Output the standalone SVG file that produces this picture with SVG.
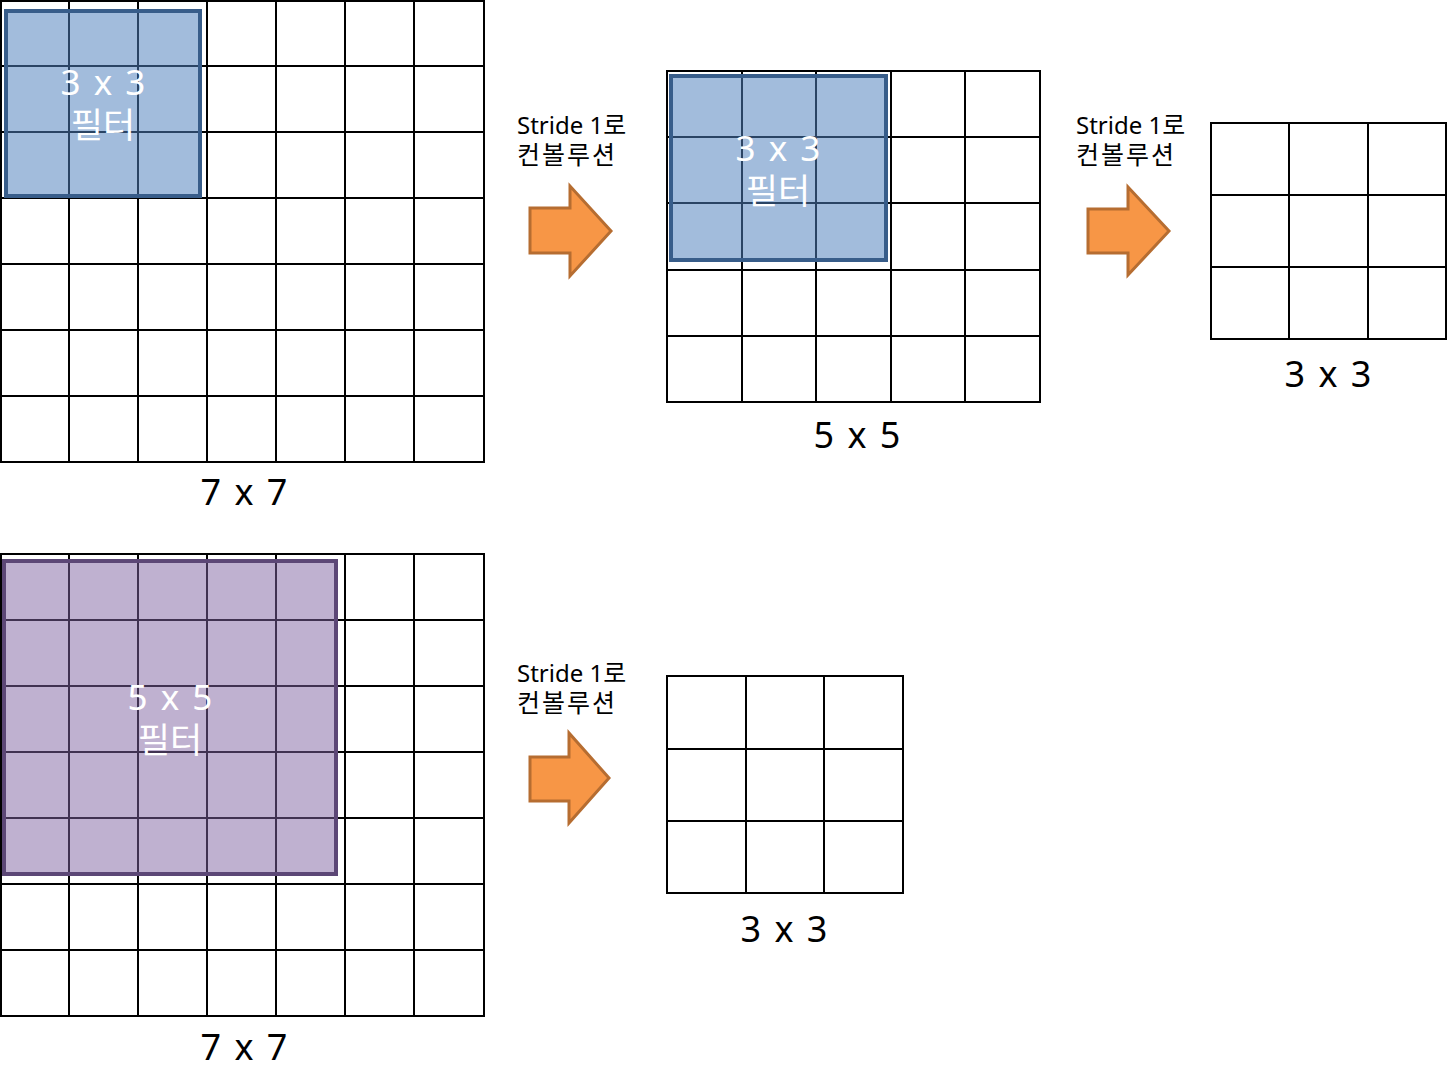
<svg xmlns="http://www.w3.org/2000/svg" width="1447" height="1091" viewBox="0 0 1447 1091">
<style>
.grid{fill:none;stroke:#000;stroke-width:2}
.fblue{fill:#4F81BD;fill-opacity:0.53;stroke:#385D8A;stroke-width:4}
.fpurple{fill:#8064A2;fill-opacity:0.5;stroke:#5C4776;stroke-width:4}
.arrow{fill:#F79646;stroke:#B66D31;stroke-width:3;stroke-linejoin:miter}
.ft{font-family:"Noto Sans","Noto Sans CJK KR",sans-serif;font-size:35px;fill:#fff;text-anchor:middle;word-spacing:4px}
.lbl{font-family:"Noto Sans","Noto Sans CJK KR",sans-serif;font-size:36px;fill:#000;text-anchor:middle;word-spacing:4px}
.st{font-family:"Noto Sans","Noto Sans CJK KR",sans-serif;font-size:24px;fill:#000}
.ko{font-family:"Noto Sans CJK KR",sans-serif;font-size:25px;fill:#000}
.ks{letter-spacing:2px}
</style>
<rect width="1447" height="1091" fill="#fff"/>
<g id="grid7a">
<path class="grid" d="M1,1H484V462H1Z M69,1V462 M138,1V462 M207,1V462 M276,1V462 M345,1V462 M414,1V462 M1,66H484 M1,132H484 M1,198H484 M1,264H484 M1,330H484 M1,396H484"/>
<rect class="fblue" x="6" y="11" width="194" height="185"/>
<text class="ft" x="103" y="95">3 x 3</text>
<text class="ft" x="103" y="138">필터</text>
<text class="lbl" x="244" y="505">7 x 7</text>
</g>
<g id="grid5">
<path class="grid" d="M667,71H1040V402H667Z M742,71V402 M816,71V402 M891,71V402 M965,71V402 M667,137H1040 M667,203H1040 M667,270H1040 M667,336H1040"/>
<rect class="fblue" x="671" y="76" width="215" height="184"/>
<text class="ft" x="778" y="161">3 x 3</text>
<text class="ft" x="778" y="204">필터</text>
<text class="lbl" x="857" y="448">5 x 5</text>
</g>
<g id="grid3a">
<path class="grid" d="M1211,123H1446V339H1211Z M1289,123V339 M1368,123V339 M1211,195H1446 M1211,267H1446"/>
<text class="lbl" x="1328" y="387">3 x 3</text>
</g>
<g id="grid7b">
<path class="grid" d="M1,554H484V1016H1Z M69,554V1016 M138,554V1016 M207,554V1016 M276,554V1016 M345,554V1016 M414,554V1016 M1,620H484 M1,686H484 M1,752H484 M1,818H484 M1,884H484 M1,950H484"/>
<rect class="fpurple" x="4" y="561" width="332" height="313"/>
<text class="ft" x="170" y="710">5 x 5</text>
<text class="ft" x="170" y="753">필터</text>
<text class="lbl" x="244" y="1060">7 x 7</text>
</g>
<g id="grid3b">
<path class="grid" d="M667,676H903V893H667Z M746,676V893 M824,676V893 M667,749H903 M667,821H903"/>
<text class="lbl" x="784" y="942">3 x 3</text>
</g>
<g id="connectors">
<g id="arrow1">
<path class="arrow" d="M530,208H570V186L611,231L570,276V253H530Z"/>
<text class="st" x="517" y="134">Stride 1<tspan class="ko">로</tspan></text>
<text class="ko ks" x="517" y="164">컨볼루션</text>
</g>
<g id="arrow2">
<path class="arrow" d="M1088,209H1128V187L1169,231L1128,275V253H1088Z"/>
<text class="st" x="1076" y="134">Stride 1<tspan class="ko">로</tspan></text>
<text class="ko ks" x="1076" y="164">컨볼루션</text>
</g>
<g id="arrow3">
<path class="arrow" d="M530,757H569V733L609,778L569,823V801H530Z"/>
<text class="st" x="517" y="682">Stride 1<tspan class="ko">로</tspan></text>
<text class="ko ks" x="517" y="712">컨볼루션</text>
</g>
</g>
</svg>
